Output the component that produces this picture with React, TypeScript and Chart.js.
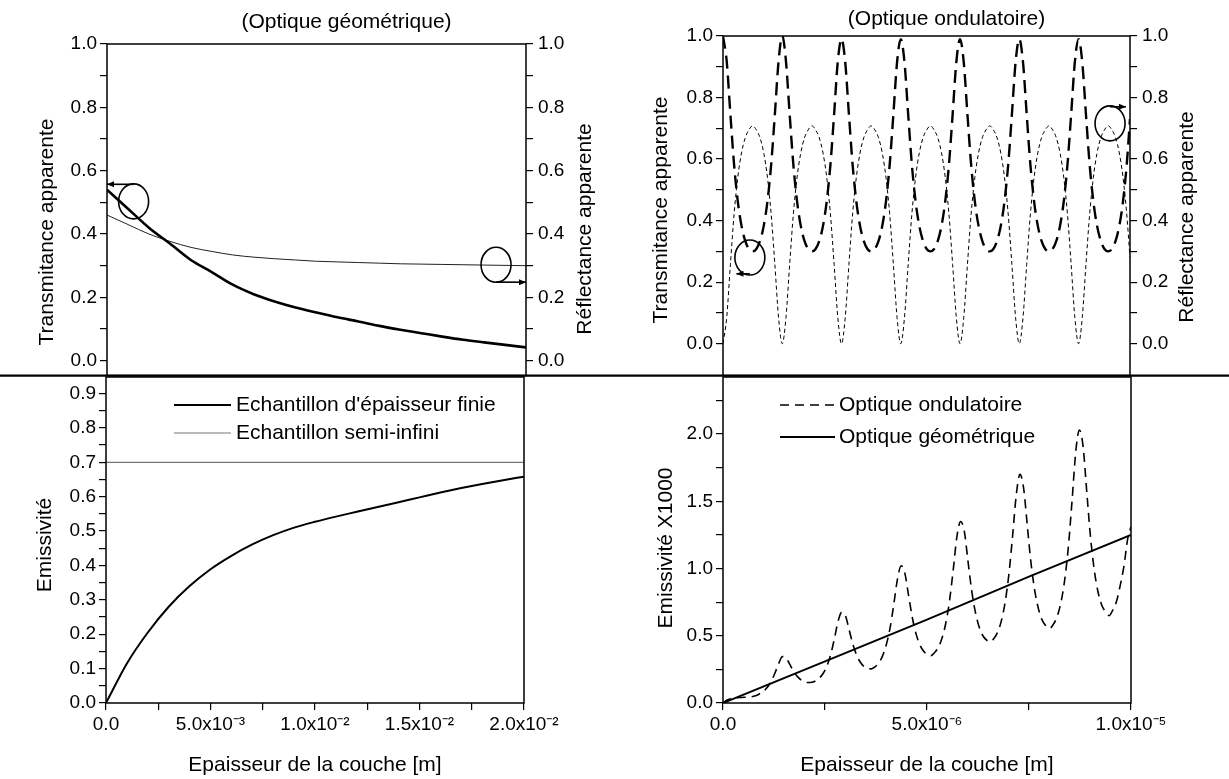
import React, { useEffect, useRef } from "react";
import { Chart, registerables } from "chart.js";

Chart.register(...registerables);

const FONT = '"Liberation Sans", Arial, Helvetica, sans-serif';
const TICK_SIZE = 19;
const TEXT_SIZE = 21;

// ---------- Top-left : geometric optics (thickness in m) ----------
const geoThicknessM = [0, 0.001, 0.002, 0.003, 0.004, 0.005, 0.006, 0.007, 0.008, 0.009, 0.01, 0.011, 0.012, 0.013, 0.014, 0.015, 0.016, 0.017, 0.018, 0.019, 0.02];
const geoTransmittance = [0.54, 0.48, 0.42, 0.37, 0.318, 0.28, 0.24, 0.21, 0.187, 0.168, 0.152, 0.137, 0.124, 0.11, 0.098, 0.087, 0.076, 0.066, 0.058, 0.05, 0.042];
const geoReflectance = [0.46, 0.43, 0.4, 0.377, 0.358, 0.345, 0.334, 0.327, 0.322, 0.318, 0.314, 0.312, 0.31, 0.308, 0.306, 0.305, 0.304, 0.303, 0.302, 0.301, 0.3];

// ---------- Bottom-left : emissivity ----------
const finiteEmissivity = [0, 0.115, 0.205, 0.28, 0.34, 0.389, 0.428, 0.461, 0.488, 0.51, 0.527, 0.542, 0.556, 0.57, 0.584, 0.598, 0.612, 0.625, 0.637, 0.648, 0.658];
const semiInfiniteThicknessM = [0, 0.02];
const semiInfiniteEmissivity = [0.7, 0.7];

// ---------- Top-right : wave optics (thickness in micrometres) ----------
const waveThicknessUm = [
  0, 0.091, 0.182, 0.273, 0.364, 0.455, 0.546, 0.637, 0.728, 0.819,
  0.91, 1.001, 1.092, 1.183, 1.274, 1.365, 1.456, 1.547, 1.638, 1.729,
  1.82, 1.911, 2.002, 2.093, 2.184, 2.275, 2.366, 2.457, 2.548, 2.639,
  2.73, 2.821, 2.912, 3.003, 3.094, 3.185, 3.276, 3.367, 3.458, 3.549,
  3.64, 3.731, 3.822, 3.913, 4.004, 4.095, 4.186, 4.277, 4.368, 4.459,
  4.55, 4.641, 4.732, 4.823, 4.914, 5.005, 5.096, 5.187, 5.278, 5.369,
  5.46, 5.551, 5.642, 5.733, 5.824, 5.915, 6.006, 6.097, 6.188, 6.279,
  6.37, 6.461, 6.552, 6.643, 6.734, 6.825, 6.916, 7.007, 7.098, 7.189,
  7.28, 7.371, 7.462, 7.553, 7.644, 7.735, 7.826, 7.917, 8.008, 8.099,
  8.19, 8.281, 8.372, 8.463, 8.554, 8.645, 8.736, 8.827, 8.918, 9.009,
  9.1, 9.191, 9.282, 9.373, 9.464, 9.555, 9.646, 9.737, 9.828, 9.919,
  10.0,
];
const waveTransmittance = [
  1.0, 0.918, 0.745, 0.581, 0.462, 0.383, 0.334, 0.308, 0.3, 0.308, 0.334, 0.383, 0.462, 0.581, 0.745, 0.918,
  1.0, 0.918, 0.745, 0.581, 0.462, 0.383, 0.334, 0.308, 0.3, 0.308, 0.334, 0.383, 0.462, 0.581, 0.745, 0.918,
  0.99, 0.915, 0.745, 0.581, 0.462, 0.383, 0.334, 0.308, 0.3, 0.308, 0.334, 0.383, 0.462, 0.581, 0.745, 0.915,
  0.99, 0.915, 0.745, 0.581, 0.462, 0.383, 0.334, 0.308, 0.3, 0.308, 0.334, 0.383, 0.462, 0.581, 0.745, 0.915,
  0.99, 0.915, 0.745, 0.581, 0.462, 0.383, 0.334, 0.308, 0.3, 0.308, 0.334, 0.383, 0.462, 0.581, 0.745, 0.915,
  0.99, 0.915, 0.745, 0.581, 0.462, 0.383, 0.334, 0.308, 0.3, 0.308, 0.334, 0.383, 0.462, 0.581, 0.745, 0.915,
  0.99, 0.915, 0.745, 0.581, 0.462, 0.383, 0.334, 0.308, 0.3, 0.308, 0.334, 0.383, 0.462, 0.581,
  0.73,
];
const waveReflectance = [
  0.0, 0.085, 0.258, 0.422, 0.541, 0.62, 0.669, 0.695, 0.708, 0.695, 0.669, 0.62, 0.541, 0.422, 0.258, 0.085,
  0.0, 0.085, 0.258, 0.422, 0.541, 0.62, 0.669, 0.695, 0.708, 0.695, 0.669, 0.62, 0.541, 0.422, 0.258, 0.085,
  0.0, 0.085, 0.258, 0.422, 0.541, 0.62, 0.669, 0.695, 0.708, 0.695, 0.669, 0.62, 0.541, 0.422, 0.258, 0.085,
  0.0, 0.085, 0.258, 0.422, 0.541, 0.62, 0.669, 0.695, 0.708, 0.695, 0.669, 0.62, 0.541, 0.422, 0.258, 0.085,
  0.0, 0.085, 0.258, 0.422, 0.541, 0.62, 0.669, 0.695, 0.708, 0.695, 0.669, 0.62, 0.541, 0.422, 0.258, 0.085,
  0.0, 0.085, 0.258, 0.422, 0.541, 0.62, 0.669, 0.695, 0.708, 0.695, 0.669, 0.62, 0.541, 0.422, 0.258, 0.085,
  0.0, 0.085, 0.258, 0.422, 0.541, 0.62, 0.669, 0.695, 0.708, 0.695, 0.669, 0.62, 0.541, 0.422,
  0.28,
];

// ---------- Bottom-right : emissivity x1000 ----------
const waveEmissivityX1000 = [
  0, 0.02, 0.032, 0.037, 0.04, 0.041, 0.043, 0.045, 0.048, 0.056, 0.071, 0.09, 0.119, 0.162, 0.223, 0.294,
  0.345, 0.334, 0.287, 0.236, 0.198, 0.172, 0.157, 0.152, 0.154, 0.165, 0.186, 0.221, 0.277, 0.36, 0.478, 0.609,
  0.675, 0.648, 0.542, 0.435, 0.356, 0.303, 0.271, 0.257, 0.254, 0.27, 0.3, 0.352, 0.435, 0.559, 0.733, 0.923,
  1.02, 0.962, 0.797, 0.634, 0.514, 0.434, 0.386, 0.362, 0.352, 0.375, 0.414, 0.483, 0.593, 0.758, 0.988, 1.237,
  1.35, 1.276, 1.051, 0.832, 0.672, 0.565, 0.5, 0.468, 0.455, 0.481, 0.529, 0.614, 0.751, 0.957, 1.243, 1.551,
  1.7, 1.59, 1.306, 1.031, 0.83, 0.696, 0.614, 0.573, 0.555, 0.586, 0.643, 0.745, 0.909, 1.155, 1.498, 1.865,
  2.03, 1.904, 1.561, 1.23, 0.988, 0.827, 0.729, 0.678, 0.65, 0.692, 0.757, 0.876, 1.02, 1.22,
  1.31,
];
const geoLineThicknessUm = [0, 2.5, 5, 7.5, 10];
const geoLineEmissivityX1000 = [0, 0.31, 0.62, 0.94, 1.25];

// ---------- annotation circles (data coordinates) ----------
type Marker = { x: number; y: number; arrowY: number; arrowTo: number };
const geoMarkers: Marker[] = [
  { x: 0.00127, y: 0.503, arrowY: 0.557, arrowTo: 0 },
  { x: 0.01857, y: 0.303, arrowY: 0.248, arrowTo: 0.02 },
];
const waveMarkers: Marker[] = [
  { x: 0.66, y: 0.28, arrowY: 0.227, arrowTo: 0.33 },
  { x: 9.51, y: 0.716, arrowY: 0.77, arrowTo: 9.9 },
];

// ---------- ticks ----------
const unitTicks = [0, 0.1, 0.2, 0.3, 0.4, 0.5, 0.6, 0.7, 0.8, 0.9, 1.0];
const unitMajors = [0, 0.2, 0.4, 0.6, 0.8, 1.0];
const unitLabels = ["0.0", "0.2", "0.4", "0.6", "0.8", "1.0"];
const emisTicks = [0, 0.05, 0.1, 0.15, 0.2, 0.25, 0.3, 0.35, 0.4, 0.45, 0.5, 0.55, 0.6, 0.65, 0.7, 0.75, 0.8, 0.85, 0.9];
const emisMajors = [0, 0.1, 0.2, 0.3, 0.4, 0.5, 0.6, 0.7, 0.8, 0.9];
const emisLabels = ["0.0", "0.1", "0.2", "0.3", "0.4", "0.5", "0.6", "0.7", "0.8", "0.9"];
const geoXTicks = [0, 0.0025, 0.005, 0.0075, 0.01, 0.0125, 0.015, 0.0175, 0.02];
const geoXMajors = [0, 0.005, 0.01, 0.015, 0.02];
const geoXLabels = ["0.0", "5.0x10\u207B\u00B3", "1.0x10\u207B\u00B2", "1.5x10\u207B\u00B2", "2.0x10\u207B\u00B2"];
const waveXTicks = [0, 2.5, 5, 7.5, 10];
const waveXMajors = [0, 5, 10];
const waveXLabels = ["0.0", "5.0x10\u207B\u2076", "1.0x10\u207B\u2075"];
const emisKTicks = [0, 0.25, 0.5, 0.75, 1.0, 1.25, 1.5, 1.75, 2.0, 2.25];
const emisKMajors = [0, 0.5, 1.0, 1.5, 2.0];
const emisKLabels = ["0.0", "0.5", "1.0", "1.5", "2.0"];

// ---------- helpers ----------
const pts = (xs: number[], ys: number[]) => xs.map((x, i) => ({ x, y: ys[i] }));

function axis(o: {
  pos: "left" | "right" | "bottom";
  min: number;
  max: number;
  ticks: number[];
  majors: number[];
  labels: string[];
  size: number;
}) {
  const span = o.max - o.min;
  return {
    type: "linear",
    position: o.pos,
    min: o.min,
    max: o.max,
    afterBuildTicks: (s: any) => {
      s.ticks = o.ticks.map((v) => ({ value: v }));
    },
    afterFit: (s: any) => {
      if (o.pos === "bottom") s.height = o.size;
      else s.width = o.size;
    },
    ticks: {
      autoSkip: false,
      maxRotation: 0,
      minRotation: 0,
      padding: o.pos === "right" ? 5 : 3,
      color: "#000",
      font: { family: FONT, size: TICK_SIZE },
      callback: (v: number) => {
        const k = o.majors.findIndex((m) => Math.abs(m - v) < span * 1e-6);
        return k >= 0 ? o.labels[k] : "";
      },
    },
    grid: { drawOnChartArea: false, drawTicks: true, tickLength: 7, color: "#000", lineWidth: 1.2 },
    border: { display: false },
  };
}

function setFont(ctx: CanvasRenderingContext2D, size: number) {
  ctx.font = `${size}px ${FONT}`;
  ctx.fillStyle = "#000";
}
function hText(ctx: CanvasRenderingContext2D, text: string, x: number, y: number, align: CanvasTextAlign = "center") {
  setFont(ctx, TEXT_SIZE);
  ctx.textAlign = align;
  ctx.textBaseline = "middle";
  ctx.fillText(text, x, y);
}
function vText(ctx: CanvasRenderingContext2D, text: string, x: number, y: number) {
  ctx.save();
  setFont(ctx, TEXT_SIZE);
  ctx.translate(x, y);
  ctx.rotate(-Math.PI / 2);
  ctx.textAlign = "center";
  ctx.textBaseline = "middle";
  ctx.fillText(text, 0, 0);
  ctx.restore();
}
function box(ctx: CanvasRenderingContext2D, ca: any) {
  ctx.strokeStyle = "#000";
  ctx.lineWidth = 1.5;
  ctx.setLineDash([]);
  ctx.strokeRect(ca.left, ca.top, ca.right - ca.left, ca.bottom - ca.top);
}
function divider(ctx: CanvasRenderingContext2D, width: number, y: number) {
  ctx.strokeStyle = "#000";
  ctx.lineWidth = 2.2;
  ctx.setLineDash([]);
  ctx.beginPath();
  ctx.moveTo(0, y);
  ctx.lineTo(width, y);
  ctx.stroke();
}
function marker(ctx: CanvasRenderingContext2D, chart: any, m: Marker) {
  const xs = chart.scales.x;
  const ys = chart.scales.y;
  const cx = xs.getPixelForValue(m.x);
  const cy = ys.getPixelForValue(m.y);
  ctx.strokeStyle = "#000";
  ctx.fillStyle = "#000";
  ctx.lineWidth = 1.6;
  ctx.setLineDash([]);
  ctx.beginPath();
  ctx.ellipse(cx, cy, 15, 17.5, 0, 0, Math.PI * 2);
  ctx.stroke();
  const ay = ys.getPixelForValue(m.arrowY);
  const ax = xs.getPixelForValue(m.arrowTo);
  ctx.beginPath();
  ctx.moveTo(cx, ay);
  ctx.lineTo(ax, ay);
  ctx.stroke();
  const dir = Math.sign(ax - cx);
  ctx.beginPath();
  ctx.moveTo(ax, ay);
  ctx.lineTo(ax - dir * 7, ay - 3);
  ctx.lineTo(ax - dir * 7, ay + 3);
  ctx.closePath();
  ctx.fill();
}
function legendRow(
  ctx: CanvasRenderingContext2D,
  x1: number,
  x2: number,
  y: number,
  ds: any,
  textX: number
) {
  ctx.strokeStyle = ds.borderColor;
  ctx.lineWidth = ds.borderWidth;
  ctx.setLineDash(ds.borderDash || []);
  ctx.beginPath();
  ctx.moveTo(x1, y);
  ctx.lineTo(x2, y);
  ctx.stroke();
  ctx.setLineDash([]);
  hText(ctx, ds.label, textX, y, "left");
}

function decor(id: string, draw: (chart: any, ctx: CanvasRenderingContext2D, ca: any) => void) {
  return {
    id,
    afterDraw(chart: any) {
      const ctx = chart.ctx as CanvasRenderingContext2D;
      ctx.save();
      draw(chart, ctx, chart.chartArea);
      ctx.restore();
    },
  };
}

const baseOptions = (padding: any, scales: any) => ({
  responsive: false,
  animation: false,
  devicePixelRatio: 1,
  events: [],
  layout: { padding },
  plugins: { legend: { display: false }, tooltip: { enabled: false }, title: { display: false } },
  elements: { point: { radius: 0 } },
  scales,
});

// ---------- chart configs ----------
const makeTopLeft = (): any => ({
  type: "line",
  data: {
    datasets: [
      {
        label: "Transmitance apparente",
        data: pts(geoThicknessM, geoTransmittance),
        yAxisID: "y",
        borderColor: "#000",
        borderWidth: 2.6,
        cubicInterpolationMode: "monotone",
      },
      {
        label: "Réflectance apparente",
        data: pts(geoThicknessM, geoReflectance),
        yAxisID: "y2",
        borderColor: "#222",
        borderWidth: 1,
        cubicInterpolationMode: "monotone",
      },
    ],
  },
  options: baseOptions(
    { top: 44, bottom: 15, left: 0, right: 0 },
    {
      x: { type: "linear", display: false, min: 0, max: 0.02 },
      y: axis({ pos: "left", min: -0.047, max: 1.0, ticks: unitTicks, majors: unitMajors, labels: unitLabels, size: 107 }),
      y2: axis({ pos: "right", min: -0.047, max: 1.0, ticks: unitTicks, majors: unitMajors, labels: unitLabels, size: 89 }),
    }
  ),
  plugins: [
    decor("tl", (chart, ctx, ca) => {
      box(ctx, ca);
      divider(ctx, chart.width, ca.bottom);
      hText(ctx, "(Optique géométrique)", (ca.left + ca.right) / 2 + 30, 22);
      vText(ctx, "Transmitance apparente", ca.left - 60, 232);
      vText(ctx, "Réflectance apparente", ca.right + 59, 229);
      geoMarkers.forEach((m) => marker(ctx, chart, m));
    }),
  ],
});

const makeTopRight = (): any => ({
  type: "line",
  data: {
    datasets: [
      {
        label: "Transmitance apparente",
        data: pts(waveThicknessUm, waveTransmittance),
        yAxisID: "y",
        borderColor: "#000",
        borderWidth: 2.4,
        borderDash: [13, 7],
        cubicInterpolationMode: "monotone",
      },
      {
        label: "Réflectance apparente",
        data: pts(waveThicknessUm, waveReflectance),
        yAxisID: "y2",
        borderColor: "#000",
        borderWidth: 1,
        borderDash: [4, 3],
        cubicInterpolationMode: "monotone",
      },
    ],
  },
  options: baseOptions(
    { top: 36, bottom: 15, left: 0, right: 0 },
    {
      x: { type: "linear", display: false, min: 0, max: 10 },
      y: axis({ pos: "left", min: -0.1036, max: 1.0, ticks: unitTicks, majors: unitMajors, labels: unitLabels, size: 108 }),
      y2: axis({ pos: "right", min: -0.1036, max: 1.0, ticks: unitTicks, majors: unitMajors, labels: unitLabels, size: 99 }),
    }
  ),
  plugins: [
    decor("tr", (chart, ctx, ca) => {
      box(ctx, ca);
      divider(ctx, chart.width, ca.bottom);
      hText(ctx, "(Optique ondulatoire)", (ca.left + ca.right) / 2 + 20, 19);
      vText(ctx, "Transmitance apparente", ca.left - 62, 210);
      vText(ctx, "Réflectance apparente", ca.right + 57, 217);
      waveMarkers.forEach((m) => marker(ctx, chart, m));
    }),
  ],
});

const makeBottomLeft = (): any => ({
  type: "line",
  data: {
    datasets: [
      {
        label: "Echantillon d'épaisseur finie",
        data: pts(geoThicknessM, finiteEmissivity),
        borderColor: "#000",
        borderWidth: 2,
        cubicInterpolationMode: "monotone",
      },
      {
        label: "Echantillon semi-infini",
        data: pts(semiInfiniteThicknessM, semiInfiniteEmissivity),
        borderColor: "#777",
        borderWidth: 1.2,
      },
    ],
  },
  options: baseOptions(
    { top: 20, bottom: 0, left: 0, right: 91 },
    {
      x: axis({ pos: "bottom", min: 0, max: 0.02, ticks: geoXTicks, majors: geoXMajors, labels: geoXLabels, size: 76 }),
      y: axis({ pos: "left", min: 0, max: 0.948, ticks: emisTicks, majors: emisMajors, labels: emisLabels, size: 106 }),
    }
  ),
  plugins: [
    decor("bl", (chart, ctx, ca) => {
      box(ctx, ca);
      vText(ctx, "Emissivité", ca.left - 61, 188);
      hText(ctx, "Epaisseur de la couche [m]", (ca.left + ca.right) / 2, ca.bottom + 62);
      const ds = chart.data.datasets;
      legendRow(ctx, ca.left + 68, ca.left + 125, ca.top + 28, ds[0], ca.left + 130);
      legendRow(ctx, ca.left + 68, ca.left + 125, ca.top + 56, ds[1], ca.left + 130);
    }),
  ],
});

const makeBottomRight = (): any => ({
  type: "line",
  data: {
    datasets: [
      {
        label: "Optique ondulatoire",
        data: pts(waveThicknessUm, waveEmissivityX1000),
        borderColor: "#000",
        borderWidth: 1.6,
        borderDash: [9, 6],
        cubicInterpolationMode: "monotone",
      },
      {
        label: "Optique géométrique",
        data: pts(geoLineThicknessUm, geoLineEmissivityX1000),
        borderColor: "#000",
        borderWidth: 2,
      },
    ],
  },
  options: baseOptions(
    { top: 20, bottom: 0, left: 0, right: 98 },
    {
      x: axis({ pos: "bottom", min: 0, max: 10, ticks: waveXTicks, majors: waveXMajors, labels: waveXLabels, size: 76 }),
      y: axis({ pos: "left", min: 0, max: 2.424, ticks: emisKTicks, majors: emisKMajors, labels: emisKLabels, size: 108 }),
    }
  ),
  plugins: [
    decor("br", (chart, ctx, ca) => {
      box(ctx, ca);
      vText(ctx, "Emissivité X1000", ca.left - 57, 191);
      hText(ctx, "Epaisseur de la couche [m]", (ca.left + ca.right) / 2, ca.bottom + 62);
      const ds = chart.data.datasets;
      legendRow(ctx, ca.left + 57, ca.left + 112, ca.top + 28, ds[0], ca.left + 116);
      legendRow(ctx, ca.left + 57, ca.left + 112, ca.top + 60, ds[1], ca.left + 116);
    }),
  ],
});

function Panel({ left, top, width, height, make }: { left: number; top: number; width: number; height: number; make: () => any }) {
  const ref = useRef<HTMLCanvasElement>(null);
  useEffect(() => {
    const chart = new Chart(ref.current as HTMLCanvasElement, make());
    return () => chart.destroy();
  }, [make]);
  return (
    <canvas
      ref={ref}
      width={width}
      height={height}
      style={{ position: "absolute", left, top, width, height, display: "block" }}
    />
  );
}

export default function App() {
  return (
    <div
      style={{
        position: "absolute",
        left: 0,
        top: 0,
        width: 1229,
        height: 779,
        background: "#fff",
        overflow: "hidden",
      }}
    >
      <Panel left={0} top={0} width={615} height={392} make={makeTopLeft} />
      <Panel left={615} top={0} width={614} height={392} make={makeTopRight} />
      <Panel left={0} top={357} width={615} height={422} make={makeBottomLeft} />
      <Panel left={615} top={357} width={614} height={422} make={makeBottomRight} />
    </div>
  );
}
